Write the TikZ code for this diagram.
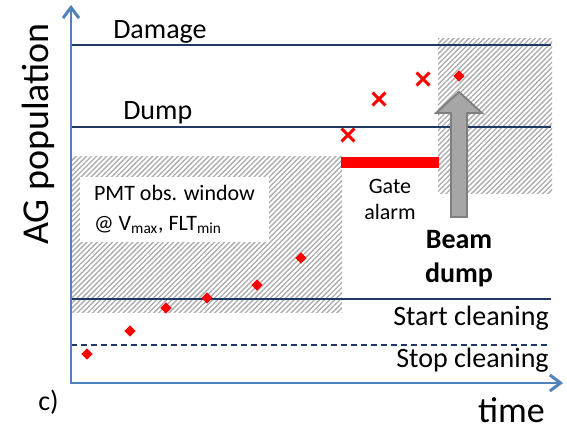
\documentclass[tikz,border=0pt]{standalone}
\usepackage{fontspec}
\setmainfont{Carlito}
\usepackage{tikz}
\usepackage{xcolor}
\usetikzlibrary{arrows.meta,patterns.meta,shapes.geometric,shapes.misc}
\definecolor{axisblue}{HTML}{4F81BD}
\definecolor{levelnavy}{HTML}{1F3864}
\definecolor{hatchgray}{HTML}{ABABAB}
\definecolor{arrowfill}{HTML}{A6A6A6}
\definecolor{arrowdraw}{HTML}{7F7F7F}
\tikzset{
    axis-line/.style = {draw=axisblue, line width=2.2pt, {Straight Barb[length=8pt,width=12pt]}-{Straight Barb[length=8pt,width=12pt]}},
    level-line/.style = {draw=levelnavy, line width=0.8pt},
    hatch-area/.style = {pattern={Lines[angle=45,distance=2.7pt,line width=1pt]}, pattern color=hatchgray},
    level-label/.style = {font=\fontsize{21}{25.2}\selectfont, inner sep=0pt},
    small-label/.style = {font=\fontsize{16.5}{19.5}\selectfont, inner sep=0pt, align=center},
    data-point/.style = {diamond, fill=red, inner sep=0pt, minimum size=8.5pt},
    alarm-point/.style = {cross out, draw=red, line width=2.2pt, inner sep=0pt, minimum size=7.5pt},
    beam-arrow/.style = {fill=arrowfill, draw=arrowdraw, line width=1.4pt, line join=miter},
}

\begin{document}
\begin{tikzpicture}[x=0.75pt, y=-0.75pt]
\useasboundingbox (0,0) rectangle (567,431);

\fill[hatch-area] (71,157) rectangle (342,312);
\fill[hatch-area] (438,39) rectangle (552,193);

\coordinate (damage-l) at (71,45);
\coordinate (damage-r) at (551,45);
\coordinate (dump-l) at (71,127);
\coordinate (dump-r) at (551,127);
\coordinate (start-l) at (71,299);
\coordinate (start-r) at (551,299);
\coordinate (stop-l) at (71,345);
\coordinate (stop-r) at (551,345);
\draw[level-line] (damage-l) -- (damage-r);
\draw[level-line] (dump-l) -- (dump-r);
\draw[level-line] (start-l) -- (start-r);
\draw[level-line, dash pattern=on 4.5pt off 3pt] (stop-l) -- (stop-r);

\node[level-label, anchor=base west] (damage) at (113,39) {Damage};
\node[level-label, anchor=base west] (dump) at (123,120) {Dump};
\node[level-label, anchor=base east] (start) at (549,325) {Start cleaning};
\node[level-label, anchor=base east] (stop) at (549,367) {Stop cleaning};

\node[small-label, fill=white, align=left, minimum width=141.75pt, minimum height=48.75pt] (pmt) at (174.5,209.5)
    {PMT obs. window\\[3pt]@ V\textsubscript{max}, FLT\textsubscript{min}};

\node[fill=red, inner sep=0pt, minimum width=73.5pt, minimum height=8.25pt] (gate-bar) at (390,162.5) {};
\node[small-label, anchor=north] (gate) at (390,179) {Gate\\alarm};

\node[data-point] (p1) at (87,354) {};
\node[data-point] (p2) at (130,331) {};
\node[data-point] (p3) at (166,308) {};
\node[data-point] (p4) at (207,298) {};
\node[data-point] (p5) at (257,285) {};
\node[data-point] (p6) at (301,258) {};
\node[alarm-point] (x1) at (348,135) {};
\node[alarm-point] (x2) at (379,99) {};
\node[alarm-point] (x3) at (423,79) {};
\node[data-point] (p7) at (459,76) {};

\draw[beam-arrow] (451,217) -- (467,217) -- (467,113) -- (482,113) -- (459,92) -- (436,113) -- (451,113) -- cycle;
\node[level-label, font=\fontsize{21}{25.5}\selectfont\bfseries, align=center, anchor=north] (beam) at (459,230) {Beam\\dump};

\coordinate (y-end) at (71,5);
\coordinate (origin) at (71,383);
\coordinate (x-end) at (563,383);
\draw[axis-line] (y-end) -- (origin) -- (x-end);

\node[font=\fontsize{28.5}{30}\selectfont, rotate=90, inner sep=0pt] (ylabel) at (38,134) {AG population};
\node[font=\fontsize{27}{30}\selectfont, anchor=base east, inner sep=0pt] (xlabel) at (545,422) {time};
\node[level-label, anchor=base west] (panel) at (38,410) {c)};
\end{tikzpicture}
\end{document}
